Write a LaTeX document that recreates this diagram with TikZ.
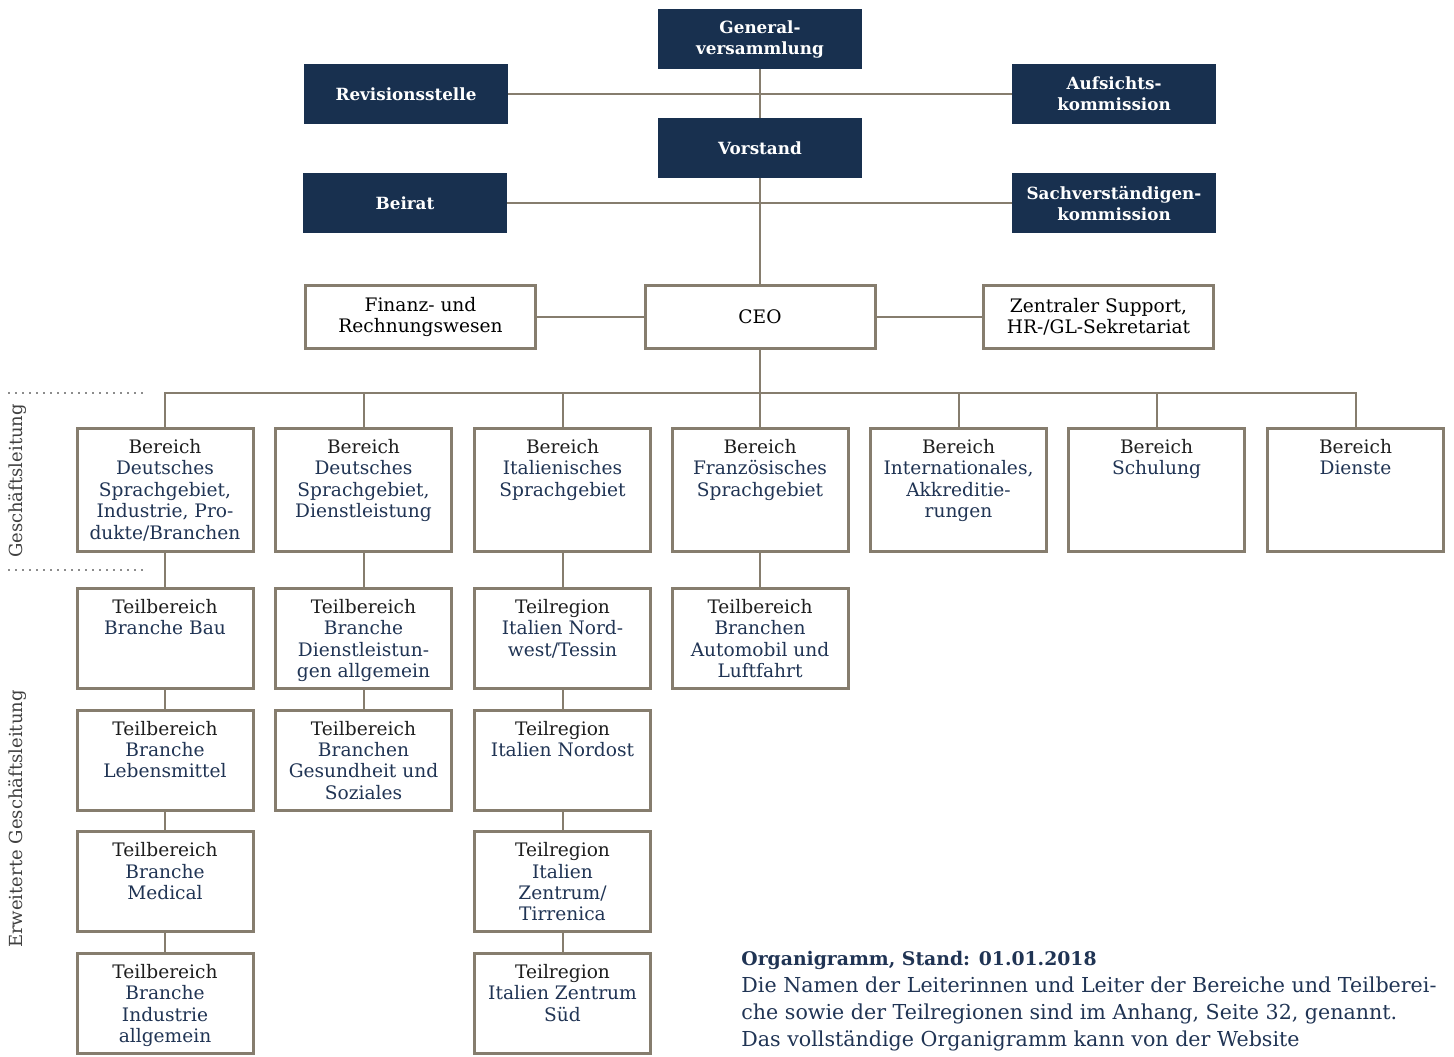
\documentclass[tikz,border=0pt]{standalone}
\usepackage{fontspec}
\setmainfont{DejaVu Serif}
\usepackage{tikz}
\usetikzlibrary{positioning}

\definecolor{navyfill}{RGB}{24,48,79}
\definecolor{navytext}{RGB}{32,52,84}
\definecolor{framecol}{RGB}{134,125,110}
\definecolor{headcol}{RGB}{30,30,30}

\newcommand{\boxhead}[1]{\textcolor{headcol}{#1}}
\newcommand{\boxtext}[1]{\begin{tabular}[t]{@{}c@{}}#1\end{tabular}}

\begin{document}
\begin{tikzpicture}[
        x=0.5pt, y=-0.5pt,
        node distance=9.3pt,
        darkbox/.style={rectangle, fill=navyfill, text=white, inner sep=0pt, minimum width=102pt, minimum height=30pt, align=center, font=\fontsize{8.4}{10.5}\selectfont\bfseries},
        topbox/.style={rectangle, draw=framecol, line width=1.5pt, fill=white, inner sep=0pt, minimum width=115pt, minimum height=31.5pt, align=center, font=\fontsize{9.3}{10.7}\selectfont},
        box/.style={rectangle, draw=framecol, line width=1.5pt, fill=white, text=navytext, anchor=north, inner xsep=0pt, inner ysep=4pt, minimum width=88pt, text height=8.5pt, text depth=45pt, font=\fontsize{9.3}{10.7}\selectfont},
        subbox/.style={box, text depth=33.5pt},
        line/.style={draw=framecol, line width=1pt},
        sep/.style={draw=black!45, line width=0.8pt, dash pattern=on 0.8pt off 2.7pt},
        side/.style={rotate=90, text=black!75, font=\fontsize{9}{10.6}\selectfont}
    ]
    \useasboundingbox (0,0) rectangle (1454,1056);

    % Top: governing bodies
    \node[darkbox] (gv) at (760,39) {General-\\versammlung};
    \node[darkbox] (rev) at (406,94) {Revisionsstelle};
    \node[darkbox] (aufs) at (1114,94) {Aufsichts-\\kommission};
    \node[darkbox] (vorstand) at (760,148) {Vorstand};
    \node[darkbox] (beirat) at (405,203) {Beirat};
    \node[darkbox] (sachv) at (1114,203) {Sachverständigen-\\kommission};

    % CEO row
    \node[topbox] (ceo) at (760,317) {CEO};
    \node[topbox] (finanz) at (420.5,317) {Finanz- und\\Rechnungswesen};
    \node[topbox] (support) at (1098.5,317) {Zentraler Support,\\HR-/GL-Sekretariat};
    \coordinate (bus) at (760,393);

    % Bereiche
    \node[box] (b1) at (165,427) {\boxtext{\boxhead{Bereich}\\Deutsches\\Sprachgebiet,\\Industrie, Pro-\\dukte/Branchen}};
    \node[box] (b2) at (363.5,427) {\boxtext{\boxhead{Bereich}\\Deutsches\\Sprachgebiet,\\Dienstleistung}};
    \node[box] (b3) at (562.5,427) {\boxtext{\boxhead{Bereich}\\Italienisches\\Sprachgebiet}};
    \node[box] (b4) at (760,427) {\boxtext{\boxhead{Bereich}\\Französisches\\Sprachgebiet}};
    \node[box] (b5) at (958.5,427) {\boxtext{\boxhead{Bereich}\\Internationales,\\Akkreditie-\\rungen}};
    \node[box] (b6) at (1156.5,427) {\boxtext{\boxhead{Bereich}\\Schulung}};
    \node[box] (b7) at (1355.5,427) {\boxtext{\boxhead{Bereich}\\Dienste}};

    % Teilbereiche (left column)
    \node[subbox, below=17pt of b1] (bau) {\boxtext{\boxhead{Teilbereich}\\Branche Bau}};
    \node[subbox, below=of bau] (lebensm) {\boxtext{\boxhead{Teilbereich}\\Branche\\Lebensmittel}};
    \node[subbox, below=of lebensm] (medical) {\boxtext{\boxhead{Teilbereich}\\Branche\\Medical}};
    \node[subbox, below=of medical] (industrie) {\boxtext{\boxhead{Teilbereich}\\Branche\\Industrie\\allgemein}};

    % Teilbereiche (second column)
    \node[subbox, below=17pt of b2] (dienstl) {\boxtext{\boxhead{Teilbereich}\\Branche\\Dienstleistun-\\gen allgemein}};
    \node[subbox, below=of dienstl] (gesundh) {\boxtext{\boxhead{Teilbereich}\\Branchen\\Gesundheit und\\Soziales}};

    % Teilregionen Italien
    \node[subbox, below=17pt of b3] (nordwest) {\boxtext{\boxhead{Teilregion}\\Italien Nord-\\west/Tessin}};
    \node[subbox, below=of nordwest] (nordost) {\boxtext{\boxhead{Teilregion}\\Italien Nordost}};
    \node[subbox, below=of nordost] (tirrenica) {\boxtext{\boxhead{Teilregion}\\Italien\\Zentrum/\\Tirrenica}};
    \node[subbox, below=of tirrenica] (sued) {\boxtext{\boxhead{Teilregion}\\Italien Zentrum\\Süd}};

    % Teilbereich Romandie
    \node[subbox, below=17pt of b4] (auto) {\boxtext{\boxhead{Teilbereich}\\Branchen\\Automobil und\\Luftfahrt}};

    % Connectors
    \draw[line] (rev) -- (aufs);
    \draw[line] (beirat) -- (sachv);
    \draw[line] (gv) -- (vorstand);
    \draw[line] (vorstand) -- (ceo);
    \draw[line] (finanz) -- (ceo);
    \draw[line] (ceo) -- (support);
    \draw[line] (ceo) -- (bus);
    \draw[line] (b1.north) |- (bus);
    \draw[line] (b2.north) |- (bus);
    \draw[line] (b3.north) |- (bus);
    \draw[line] (b4.north) -- (bus);
    \draw[line] (b5.north) |- (bus);
    \draw[line] (b6.north) |- (bus);
    \draw[line] (b7.north) |- (bus);
    \draw[line] (b1) -- (bau);
    \draw[line] (bau) -- (lebensm);
    \draw[line] (lebensm) -- (medical);
    \draw[line] (medical) -- (industrie);
    \draw[line] (b2) -- (dienstl);
    \draw[line] (dienstl) -- (gesundh);
    \draw[line] (b3) -- (nordwest);
    \draw[line] (nordwest) -- (nordost);
    \draw[line] (nordost) -- (tirrenica);
    \draw[line] (tirrenica) -- (sued);
    \draw[line] (b4) -- (auto);

    % Side labels
    \draw[sep] (8,393) -- (145,393);
    \draw[sep] (8,570) -- (145,570);
    \node[side] (gl) at (18,481) {Geschäftsleitung};
    \node[side] (egl) at (18,819) {Erweiterte Geschäftsleitung};

    % Caption
    \node[anchor=north west, inner sep=0pt, align=left, text=navytext, font=\fontsize{10.3}{13.5}\selectfont] (caption) at (741,951) {{\fontsize{9.4}{13.5}\selectfont\bfseries Organigramm, Stand: 01.01.2018}\\Die Namen der Leiterinnen und Leiter der Bereiche und Teilberei-\\che sowie der Teilregionen sind im Anhang, Seite 32, genannt.\\Das vollständige Organigramm kann von der Website};

\end{tikzpicture}
\end{document}
